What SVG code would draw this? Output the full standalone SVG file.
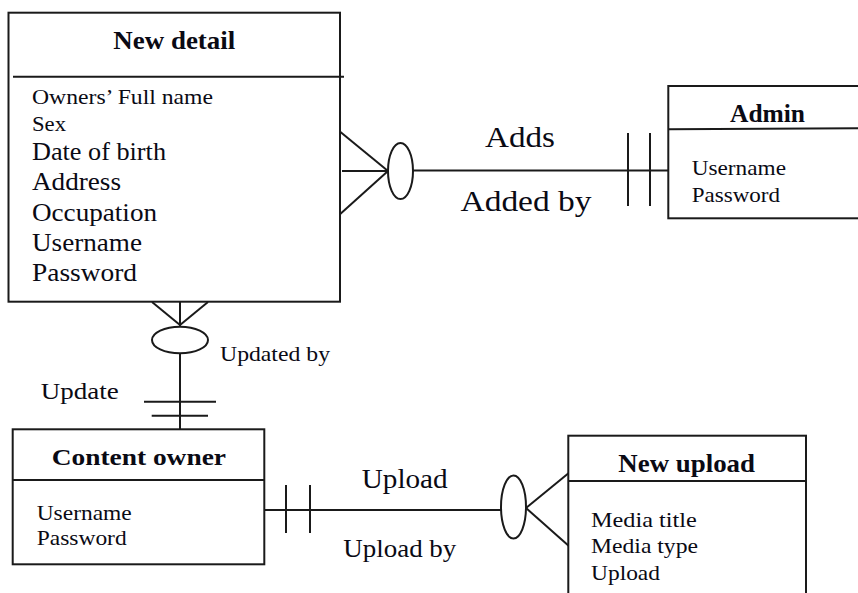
<svg xmlns="http://www.w3.org/2000/svg" width="858" height="593" viewBox="0 0 858 593">
<style>
.box{fill:#fff;stroke:#1a1a1a;stroke-width:2}
.ln{stroke:#1a1a1a;stroke-width:2;fill:none}
.ell{fill:#fff;stroke:#1a1a1a;stroke-width:2}
text{font-family:'Liberation Serif',serif;fill:#0a0a14}
.title{font-weight:bold;font-size:25px}
.attr{font-size:21px}
.attrL{font-size:25px}
.lbl{font-size:29px}
</style>
<rect width="858" height="593" fill="#fff"/>
<g id="connectors">
  <line class="ln" x1="338" y1="130" x2="388" y2="171"/>
  <line class="ln" x1="338" y1="216" x2="388" y2="171"/>
  <line class="ln" x1="342" y1="171" x2="388" y2="171"/>
  <ellipse class="ell" cx="400.5" cy="171" rx="12.5" ry="28"/>
  <line class="ln" x1="413" y1="170.5" x2="668" y2="170.5"/>
  <line class="ln" x1="628" y1="133" x2="628" y2="206"/>
  <line class="ln" x1="650" y1="133" x2="650" y2="206"/>
  <line class="ln" x1="152" y1="302" x2="180" y2="325"/>
  <line class="ln" x1="208" y1="302" x2="180" y2="325"/>
  <line class="ln" x1="180" y1="302" x2="180" y2="327"/>
  <ellipse class="ell" cx="180" cy="340" rx="28" ry="13.3"/>
  <line class="ln" x1="180" y1="353.3" x2="180" y2="429"/>
  <line class="ln" x1="144" y1="401.7" x2="216" y2="401.7"/>
  <line class="ln" x1="151.7" y1="415.7" x2="208" y2="415.7"/>
  <line class="ln" x1="264" y1="510" x2="501" y2="510"/>
  <line class="ln" x1="286" y1="485" x2="286" y2="533"/>
  <line class="ln" x1="310" y1="485" x2="310" y2="533"/>
  <ellipse class="ell" cx="513.5" cy="507" rx="12.5" ry="31.5"/>
  <line class="ln" x1="526" y1="508" x2="570" y2="472"/>
  <line class="ln" x1="526" y1="508" x2="570" y2="547"/>
  <text class="lbl" x="485" y="147" textLength="70" lengthAdjust="spacingAndGlyphs">Adds</text>
  <text class="lbl" x="460.5" y="211" textLength="131" lengthAdjust="spacingAndGlyphs">Added by</text>
  <text x="220" y="360.7" style="font-size:21px" textLength="110" lengthAdjust="spacingAndGlyphs">Updated by</text>
  <text x="40.7" y="399.3" style="font-size:24px" textLength="78" lengthAdjust="spacingAndGlyphs">Update</text>
  <text x="361.7" y="488.3" style="font-size:28px" textLength="86" lengthAdjust="spacingAndGlyphs">Upload</text>
  <text x="343.3" y="556.7" style="font-size:26px" textLength="113" lengthAdjust="spacingAndGlyphs">Upload by</text>
</g>
<g id="new-detail">
  <rect class="box" x="8.5" y="12.7" width="331.5" height="289"/>
  <line class="ln" x1="13" y1="76.7" x2="344" y2="76.7"/>
  <text class="title" x="113.3" y="49.3" style="font-size:26px" textLength="122" lengthAdjust="spacingAndGlyphs">New detail</text>
  <text class="attr" x="32" y="104" textLength="181" lengthAdjust="spacingAndGlyphs">Owners’ Full name</text>
  <text class="attr" x="32" y="130.5" textLength="34" lengthAdjust="spacingAndGlyphs">Sex</text>
  <text class="attrL" x="32" y="160" textLength="134" lengthAdjust="spacingAndGlyphs">Date of birth</text>
  <text class="attrL" x="32" y="190" textLength="89" lengthAdjust="spacingAndGlyphs">Address</text>
  <text class="attrL" x="32" y="220.5" textLength="125" lengthAdjust="spacingAndGlyphs">Occupation</text>
  <text class="attrL" x="32" y="250.5" textLength="110" lengthAdjust="spacingAndGlyphs">Username</text>
  <text class="attrL" x="32" y="281" textLength="105" lengthAdjust="spacingAndGlyphs">Password</text>
</g>
<g id="admin">
  <rect class="box" x="668.3" y="86" width="200" height="132.3"/>
  <line class="ln" x1="668.3" y1="129.3" x2="858" y2="128.3"/>
  <text class="title" x="730" y="122.3" textLength="75" lengthAdjust="spacingAndGlyphs">Admin</text>
  <text class="attr" x="691.7" y="175" textLength="94.3" lengthAdjust="spacingAndGlyphs">Username</text>
  <text class="attr" x="691.7" y="201.7" textLength="88.3" lengthAdjust="spacingAndGlyphs">Password</text>
</g>
<g id="content-owner">
  <rect class="box" x="12.7" y="429.3" width="251.6" height="135"/>
  <line class="ln" x1="12.7" y1="480" x2="264.3" y2="480"/>
  <text class="title" x="51.7" y="465" style="font-size:24px" textLength="174.3" lengthAdjust="spacingAndGlyphs">Content owner</text>
  <text class="attr" x="36.7" y="520" textLength="95" lengthAdjust="spacingAndGlyphs">Username</text>
  <text class="attr" x="36.7" y="545" textLength="90" lengthAdjust="spacingAndGlyphs">Password</text>
</g>
<g id="new-upload">
  <rect class="box" x="568.3" y="435.7" width="237.7" height="170"/>
  <line class="ln" x1="568.3" y1="481" x2="806" y2="481"/>
  <text class="title" x="618.3" y="471.7" textLength="136.7" lengthAdjust="spacingAndGlyphs">New upload</text>
  <text class="attr" x="591" y="526.7" textLength="105.7" lengthAdjust="spacingAndGlyphs">Media title</text>
  <text class="attr" x="591" y="553.3" textLength="107" lengthAdjust="spacingAndGlyphs">Media type</text>
  <text class="attr" x="591" y="580" textLength="69" lengthAdjust="spacingAndGlyphs">Upload</text>
</g>
</svg>
